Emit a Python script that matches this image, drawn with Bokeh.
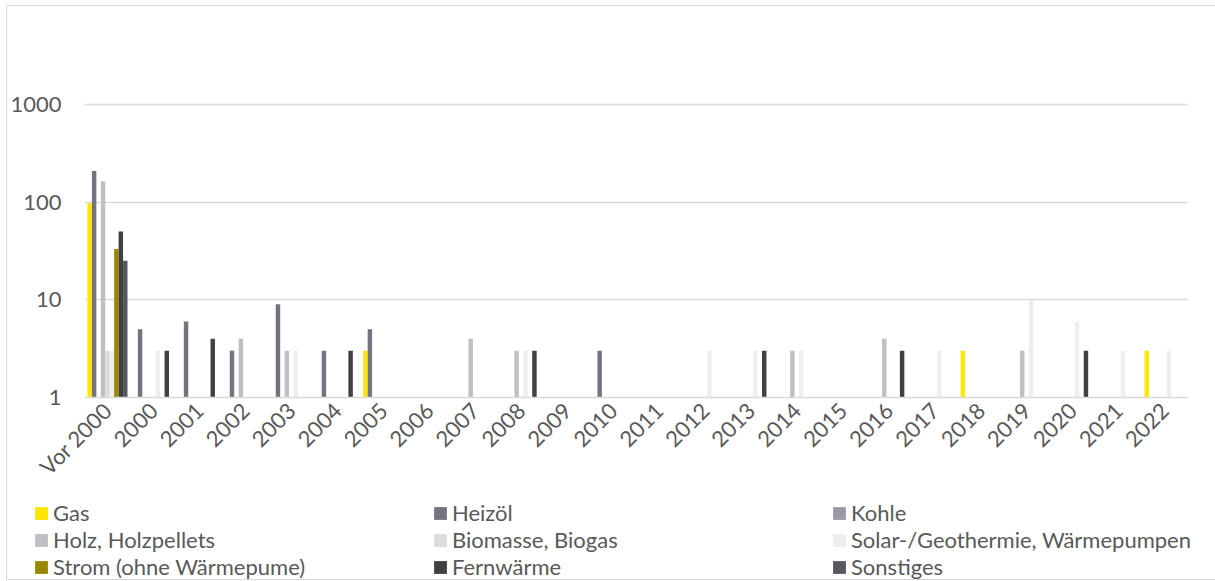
from bokeh.plotting import figure
from bokeh.layouts import column
from bokeh.models import (ColumnDataSource, Range1d, FixedTicker, NumeralTickFormatter,
                          Legend, LegendItem)
from bokeh.transform import dodge
from bokeh.embed import file_html
from bokeh.resources import INLINE

# Baujahre der Heizungsanlagen (Kategorien der x-Achse)
categories = ["Vor 2000", "2000", "2001", "2002", "2003", "2004", "2005", "2006",
              "2007", "2008", "2009", "2010", "2011", "2012", "2013", "2014",
              "2015", "2016", "2017", "2018", "2019", "2020", "2021", "2022"]

# Anzahl je Energieträger und Baujahr (0 = kein Balken)
gas =        [97, 0, 0, 0, 0, 0, 3, 0, 0, 0, 0, 0, 0, 0, 0, 0, 0, 0, 0, 3, 0, 0, 0, 3]
heizoel =    [207, 5, 6, 3, 9, 3, 5, 0, 0, 0, 0, 3, 0, 0, 0, 0, 0, 0, 0, 0, 0, 0, 0, 0]
kohle =      [0, 0, 0, 0, 0, 0, 0, 0, 0, 0, 0, 0, 0, 0, 0, 0, 0, 0, 0, 0, 0, 0, 0, 0]
holz =       [163, 0, 0, 4, 3, 0, 0, 0, 4, 3, 0, 0, 0, 0, 0, 3, 0, 4, 0, 0, 3, 0, 0, 0]
biomasse =   [3, 0, 0, 0, 0, 0, 0, 0, 0, 0, 0, 0, 0, 0, 0, 0, 0, 0, 0, 0, 0, 0, 0, 0]
solar =      [3, 3, 0, 0, 3, 0, 0, 0, 0, 3, 0, 0, 0, 3, 3, 3, 0, 0, 3, 0, 10, 6, 3, 3]
strom =      [33, 0, 0, 0, 0, 0, 0, 0, 0, 0, 0, 0, 0, 0, 0, 0, 0, 0, 0, 0, 0, 0, 0, 0]
fernwaerme = [50, 3, 4, 0, 0, 3, 0, 0, 0, 3, 0, 0, 0, 0, 3, 0, 0, 3, 0, 0, 0, 3, 0, 0]
sonstiges =  [25, 0, 0, 0, 0, 0, 0, 0, 0, 0, 0, 0, 0, 0, 0, 0, 0, 0, 0, 0, 0, 0, 0, 0]

series_names = ["Gas", "Heizöl", "Kohle", "Holz, Holzpellets", "Biomasse, Biogas",
                "Solar-/Geothermie, Wärmepumpen", "Strom (ohne Wärmepume)",
                "Fernwärme", "Sonstiges"]
series_values = [gas, heizoel, kohle, holz, biomasse, solar, strom, fernwaerme, sonstiges]
series_colors = ["#FFE600", "#747480", "#9A9AA4", "#BFBFC4", "#DCDCDE",
                 "#EEEEEE", "#9A8700", "#404045", "#575762"]

FONT = "Lato"
TEXT_COLOR = "#595959"
GRID_COLOR = "#D9D9D9"
BORDER = "1px solid #D9D9D9"
WIDTH = 1208

# --- Balkendiagramm -------------------------------------------------------
p = figure(x_range=categories, y_axis_type="log", y_range=Range1d(1, 10000),
           width=WIDTH, height=492, output_backend="svg", toolbar_location=None,
           min_border_left=76, min_border_right=28, min_border_top=0,
           min_border_bottom=101)
p.x_range.range_padding = 0
p.outline_line_color = None
p.background_fill_color = "white"
p.border_fill_color = "white"

n = len(series_names)
bar_w = 0.0968
for i, (name, vals, col) in enumerate(zip(series_names, series_values, series_colors)):
    cats = [c for c, v in zip(categories, vals) if v > 0]
    tops = [v for v in vals if v > 0]
    src = ColumnDataSource(dict(cat=cats, top=tops))
    p.vbar(x=dodge("cat", (i - (n - 1) / 2) * bar_w, range=p.x_range),
           top="top", bottom=1, width=bar_w, source=src,
           fill_color=col, line_color=None)

ticks = FixedTicker(ticks=[1, 10, 100, 1000])
p.yaxis.ticker = ticks
p.yaxis.formatter = NumeralTickFormatter(format="0")
p.yaxis.axis_line_color = None
p.yaxis.major_tick_line_color = None
p.yaxis.minor_tick_line_color = None
p.yaxis.major_tick_out = 0
p.yaxis.major_tick_in = 0
p.yaxis.minor_tick_out = 0
p.yaxis.major_label_standoff = 23
p.yaxis.major_label_text_font = FONT
p.yaxis.major_label_text_font_size = "22px"
p.yaxis.major_label_text_color = TEXT_COLOR

p.ygrid.ticker = ticks
p.ygrid.grid_line_color = GRID_COLOR
p.ygrid.grid_line_width = 1.3
p.ygrid.minor_grid_line_color = None
p.xgrid.grid_line_color = None

p.xaxis.axis_line_color = GRID_COLOR
p.xaxis.axis_line_width = 1.3
p.xaxis.major_tick_line_color = None
p.xaxis.minor_tick_line_color = None
p.xaxis.major_tick_out = 0
p.xaxis.major_tick_in = 0
p.xaxis.major_label_orientation = 0.785398
p.xaxis.major_label_standoff = 9
p.xaxis.major_label_text_font = FONT
p.xaxis.major_label_text_font_size = "22px"
p.xaxis.major_label_text_color = TEXT_COLOR

# --- Legende: drei gleich breite Spalten ------------------------------------
leg_fig = figure(width=WIDTH, height=81, x_range=(0, 1), y_range=(0, 1),
                 output_backend="svg", toolbar_location=None,
                 x_axis_location=None, y_axis_location=None,
                 min_border_left=0, min_border_right=0,
                 min_border_top=0, min_border_bottom=0,
                 outline_line_color=None)
if "frame_align" in leg_fig.properties():
    leg_fig.frame_align = False  # eigene Zeichenfläche über die volle Breite
leg_fig.grid.visible = False
# Platzhalter ohne Fläche, die nur die Farbe des Legendensymbols tragen
leg_renderers = [leg_fig.vbar(x=[0.5], bottom=[0], top=[0], width=0,
                              fill_color=c, line_color=None)
                 for c in series_colors]
legend = Legend(items=[LegendItem(label=nm, renderers=[r])
                       for nm, r in zip(series_names, leg_renderers)],
                location=(26, -1), orientation="horizontal", ncols=3,
                glyph_width=16, glyph_height=16, label_standoff=4,
                label_width=379, label_height=27, spacing=0, padding=0, margin=0,
                border_line_color=None, background_fill_alpha=0,
                label_text_font=FONT, label_text_font_size="22px",
                label_text_color=TEXT_COLOR)
leg_fig.add_layout(legend, "center")

layout = column(p, leg_fig, spacing=0, margin=(5, 0, 0, 6),
                styles={"border-left": BORDER, "border-top": BORDER, "border-bottom": BORDER})

open("out.html", "w").write(file_html(layout, INLINE))
